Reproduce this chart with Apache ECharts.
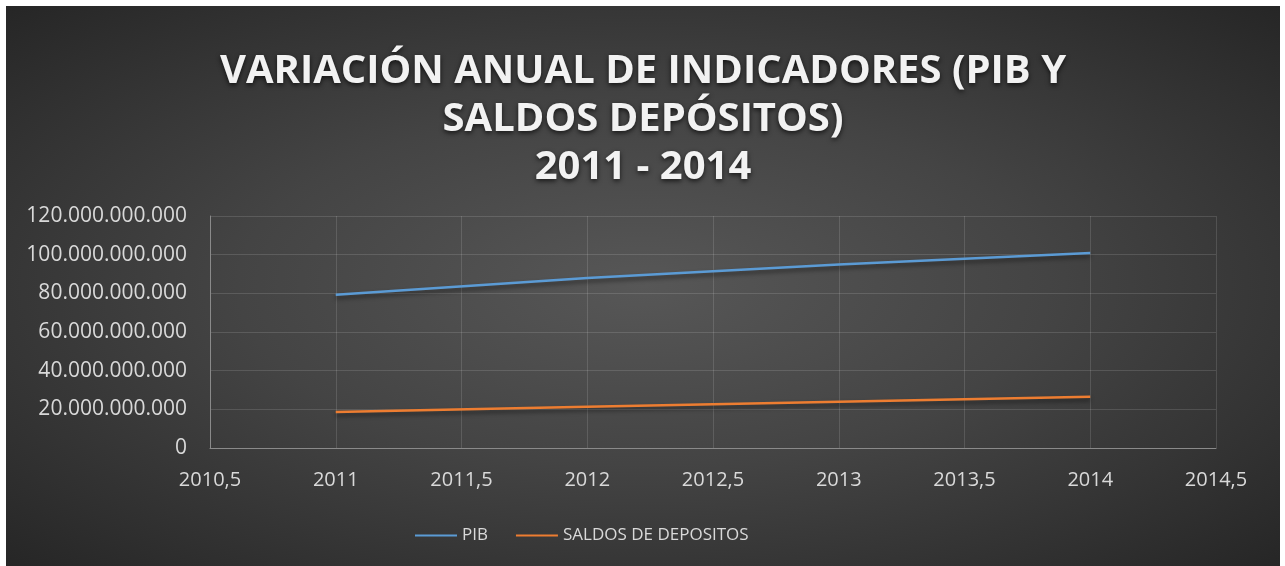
<!DOCTYPE html>
<html>
<head>
<meta charset="utf-8">
<script src="https://cdn.jsdelivr.net/npm/echarts@6/dist/echarts.min.js"></script>
<style>
html,body{margin:0;padding:0;background:#fff;}
#chart{position:absolute;left:6px;top:6px;width:1274px;height:560px;
background:radial-gradient(ellipse farthest-corner at 50% 50%, #575757 0%, #444 45%, #262626 100%);}
</style>
</head>
<body>
<div id="chart"></div>
<script>
// datos
var years = [2011, 2012, 2013, 2014];
var pib = [79300000000, 87900000000, 94900000000, 100900000000];
var saldos = [18600000000, 21400000000, 23900000000, 26500000000];
var seriesNames = ['PIB', 'SALDOS DE DEPOSITOS'];

function miles(v){
	return String(v).replace(/\B(?=(\d{3})+(?!\d))/g, '.');
}
function pares(xs, ys){
	return xs.map(function(x, i){ return [x, ys[i]]; });
}

var chart = echarts.init(document.getElementById('chart'));
var option = {
	backgroundColor: 'transparent',
	textStyle: {fontFamily: 'Open Sans'},
	title: {
		text: 'VARIACIÓN ANUAL DE INDICADORES (PIB Y\nSALDOS DEPÓSITOS)\n2011 - 2014',
		left: 'center',
		top: 37,
		textStyle: {
			color: '#f2f2f2',
			fontFamily: 'Open Sans',
			fontWeight: 'bold',
			fontSize: 40,
			lineHeight: 48,
			textShadowColor: 'rgba(0,0,0,0.7)',
			textShadowBlur: 5,
			textShadowOffsetY: 2
		}
	},
	legend: {
		data: seriesNames,
		left: 404,
		top: 516,
		itemWidth: 42,
		itemHeight: 2,
		itemGap: 28,
		icon: 'rect',
		textStyle: {color: '#d9d9d9', fontSize: 17, fontFamily: 'Open Sans'}
	},
	grid: {left: 204, top: 210, right: 64, bottom: 118},
	xAxis: {
		type: 'value',
		min: 2010.5,
		max: 2014.5,
		interval: 0.5,
		axisLine: {lineStyle: {color: '#8a8a8a', width: 1}},
		axisTick: {show: false},
		axisLabel: {
			color: '#d9d9d9', fontSize: 20, margin: 22,
			formatter: function(v){ return String(v).replace('.', ','); }
		},
		splitLine: {show: true, lineStyle: {color: 'rgba(255,255,255,0.13)'}}
	},
	yAxis: {
		type: 'value',
		min: 0,
		max: 120000000000,
		interval: 20000000000,
		axisLine: {show: true, lineStyle: {color: '#8a8a8a', width: 1}},
		axisTick: {show: false},
		axisLabel: {color: '#d9d9d9', fontSize: 21, margin: 23, formatter: miles},
		splitLine: {lineStyle: {color: 'rgba(255,255,255,0.13)'}}
	},
	series: [{
		name: seriesNames[0],
		type: 'line',
		data: pares(years, pib),
		showSymbol: false,
		color: '#5b9bd5',
		lineStyle: {width: 2.5, shadowColor: 'rgba(0,0,0,0.5)', shadowBlur: 4, shadowOffsetY: 3}
	}, {
		name: seriesNames[1],
		type: 'line',
		data: pares(years, saldos),
		showSymbol: false,
		color: '#ed7d31',
		lineStyle: {width: 2.5, shadowColor: 'rgba(0,0,0,0.5)', shadowBlur: 4, shadowOffsetY: 3}
	}]
};
chart.setOption(option);
</script>
</body>
</html>
